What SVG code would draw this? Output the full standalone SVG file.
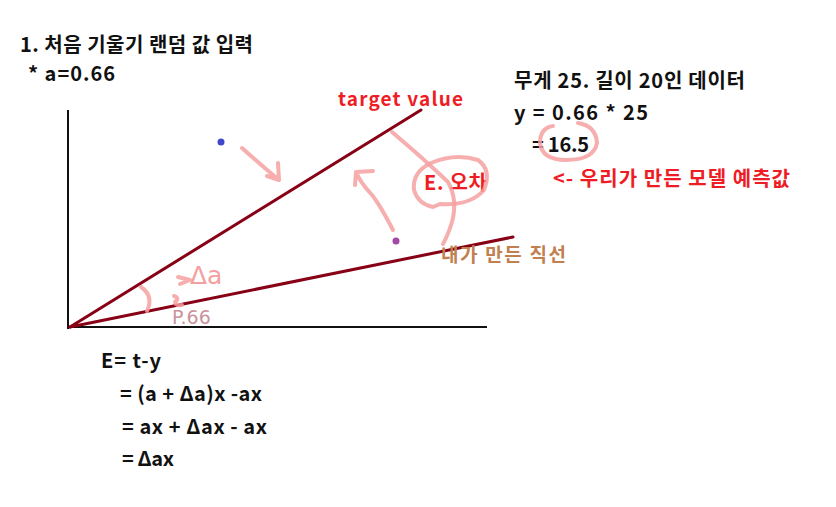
<svg xmlns="http://www.w3.org/2000/svg" width="836" height="507" viewBox="0 0 836 507">
<style>
.t{font-family:"Noto Sans CJK KR","Noto Sans",sans-serif;font-size:20px;font-weight:700;fill:#111}
.r{fill:#ee1c24}
.b{fill:#c08050}
.axis{stroke:#111;stroke-width:2;fill:none}
.ln{stroke:#880015;stroke-width:3;fill:none;stroke-linecap:round}
.pk{stroke:#f4a0a0;stroke-width:4;fill:none;stroke-linecap:round;stroke-linejoin:round;opacity:0.85}
.hw{font-family:"DejaVu Sans",sans-serif;fill:#f4a0a0}
</style>
<rect width="836" height="507" fill="#fff"/>
<g id="title">
<text class="t" x="20" y="52" textLength="233" lengthAdjust="spacing">1. 처음 기울기 랜덤 값 입력</text>
<text class="t" x="28" y="81" textLength="87" lengthAdjust="spacing">* a=0.66</text>
</g>
<g id="data">
<text class="t" x="514" y="88" textLength="231" lengthAdjust="spacing">무게 25. 길이 20인 데이터</text>
<text class="t" x="514" y="120" textLength="134" lengthAdjust="spacing">y = 0.66 * 25</text>
<text class="t" x="532" y="152" textLength="57" lengthAdjust="spacing">= 16.5</text>
<text class="t r" x="553" y="186" textLength="237" lengthAdjust="spacing">&lt;- 우리가 만든 모델 예측값</text>
</g>
<g id="axes">
<line class="axis" x1="68" y1="110" x2="68" y2="329"/>
<line class="axis" x1="68" y1="327" x2="487" y2="327"/>
</g>
<g id="connectors">
<line class="ln" x1="70" y1="327" x2="421" y2="110"/>
<line class="ln" x1="70" y1="327" x2="513" y2="237"/>
</g>
<g id="points">
<circle cx="221" cy="142" r="3.5" fill="#3f48cc"/>
<circle cx="396" cy="241" r="3.5" fill="#a349a4"/>
</g>
<g id="labels">
<text class="t r" x="338" y="106" style="font-size:19px" textLength="125" lengthAdjust="spacing">target value</text>
<text class="t r" x="424" y="190" textLength="63" lengthAdjust="spacing">E. 오차</text>
<text class="t b" x="441" y="262" style="font-size:19px" textLength="125" lengthAdjust="spacing">내가 만든 직선</text>
</g>
<g id="annotations">
<path class="pk" d="M242,148 Q262,166 279,180 M278,163 L279,180 L267,176"/>
<path class="pk" d="M393,230 Q380,205 372,195 Q360,182 356,172 M373,171 L356,172 L355,185"/>
<path class="pk" d="M392,132 Q425,160 448,182 Q458,200 452,222 Q448,235 443,244"/>
<path class="pk" d="M431,163 Q455,153 478,160 Q492,170 484,190 Q470,206 440,204 L433,207 Q418,204 414,190 Q412,172 431,163"/>
<path class="pk" d="M553,126 Q540,128 540,143 Q542,160 566,160 Q594,160 597,143 Q596,126 578,123"/>
<path class="pk" d="M141,287 Q154,296 147,311"/>
<path class="pk" d="M178,277 L190,280 L180,284 M174,296 Q180,298 175,302 Q176,306 182,305"/>
<text class="hw" x="190" y="284" style="font-size:25px">Δa</text>
<text class="hw" x="172" y="324" style="font-size:19px;fill:#c9949c">P.66</text>
</g>
<g id="formula">
<text class="t" x="101" y="368" textLength="60" lengthAdjust="spacing">E= t-y</text>
<text class="t" x="120" y="401" textLength="142" lengthAdjust="spacing">= (a + Δa)x -ax</text>
<text class="t" x="122" y="434" textLength="145" lengthAdjust="spacing">= ax + Δax - ax</text>
<text class="t" x="122" y="466" textLength="52" lengthAdjust="spacing">= Δax</text>
</g>
</svg>
